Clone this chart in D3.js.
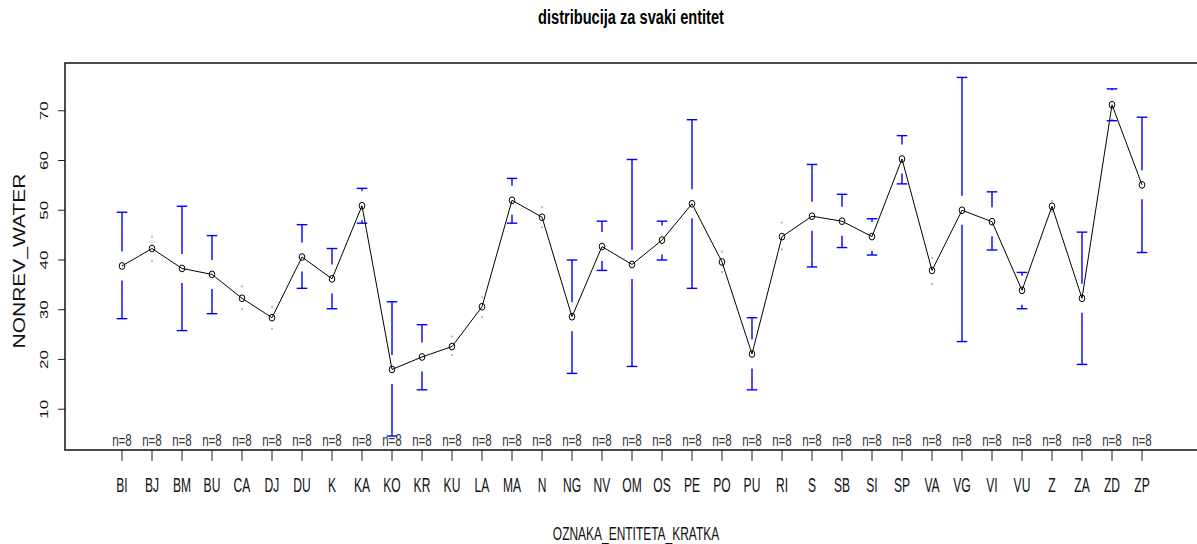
<!DOCTYPE html>
<html>
<head>
<meta charset="utf-8">
<script src="https://cdn.jsdelivr.net/npm/d3@7.9.0/dist/d3.min.js"></script>
<style>
  body { margin: 0; background: #fff; }
  svg { display: block; font-family: "Liberation Sans", Arial, sans-serif; }
</style>
</head>
<body>
<svg id="chart" width="1197" height="544"></svg>
<script>
// group codes (OZNAKA_ENTITETA_KRATKA)
const categories = ['BI', 'BJ', 'BM', 'BU', 'CA', 'DJ', 'DU', 'K', 'KA', 'KO', 'KR', 'KU', 'LA', 'MA', 'N', 'NG', 'NV', 'OM', 'OS', 'PE', 'PO', 'PU', 'RI', 'S', 'SB', 'SI', 'SP', 'VA', 'VG', 'VI', 'VU', 'Z', 'ZA', 'ZD', 'ZP'];
// mean NONREV_WATER per group
const means = [38.8, 42.3, 38.3, 37.1, 32.3, 28.4, 40.6, 36.2, 50.9, 18.0, 20.5, 22.6, 30.6, 52.0, 48.6, 28.6, 42.7, 39.1, 44.0, 51.3, 39.6, 21.1, 44.7, 48.8, 47.8, 44.7, 60.3, 37.9, 50.0, 47.7, 33.9, 50.8, 32.3, 71.2, 55.1];
// 95% CI limits
const upper = [49.6, 44.7, 50.8, 44.9, 34.7, 30.6, 47.1, 42.3, 54.4, 31.6, 27.0, 24.6, 32.5, 56.4, 50.6, 40.0, 47.8, 60.2, 47.8, 68.2, 41.7, 28.4, 47.5, 59.2, 53.2, 48.3, 65.0, 40.4, 76.7, 53.7, 37.5, 51.8, 45.6, 74.4, 68.7];
const lower = [28.2, 39.8, 25.8, 29.2, 30.1, 26.2, 34.3, 30.2, 47.4, 4.6, 13.9, 20.9, 28.5, 47.4, 46.6, 17.2, 37.9, 18.6, 40.0, 34.3, 37.6, 13.9, 42.1, 38.6, 42.5, 41.0, 55.3, 35.2, 23.6, 42.0, 30.2, 49.8, 19.0, 68.0, 41.5];
const counts = [8, 8, 8, 8, 8, 8, 8, 8, 8, 8, 8, 8, 8, 8, 8, 8, 8, 8, 8, 8, 8, 8, 8, 8, 8, 8, 8, 8, 8, 8, 8, 8, 8, 8, 8];
const yTicks = [10, 20, 30, 40, 50, 60, 70];

const data = categories.map((c, i) => ({
  label: c, i: i, mean: means[i], hi: upper[i], lo: lower[i], n: counts[i]
}));

const box = { left: 65, right: 1199, top: 63, bottom: 450 };
const svg = d3.select('#chart');

let x = d3.scaleLinear().domain([-1.9, categories.length + 0.9]).range([box.left, box.right]);
let y = d3.scaleLinear().domain([1.8, 79.6]).range([box.bottom, box.top]);

// horizontally squeezed text, like the original picture
function hText(g, tx, ty, str, size, sx, opts = {}) {
  return g.append('text')
    .attr('transform', `translate(${tx},${ty}) scale(${sx},1)`)
    .attr('text-anchor', opts.anchor || 'middle')
    .attr('font-size', size)
    .attr('font-weight', opts.weight || 'normal')
    .attr('fill', opts.fill || '#000')
    .text(str);
}
function vText(g, tx, ty, str, size, sx, opts = {}) {
  return g.append('text')
    .attr('transform', `translate(${tx},${ty}) scale(${sx},1) rotate(-90)`)
    .attr('text-anchor', 'middle')
    .attr('font-size', size)
    .attr('fill', opts.fill || '#000')
    .text(str);
}

// title + axis titles
hText(svg, 631, 24, 'distribucija za svaki entitet', 19.5, 0.75, { weight: 'bold' });
hText(svg, 636, 540, 'OZNAKA_ENTITETA_KRATKA', 19, 0.63, { fill: '#111' });
vText(svg, 25, 261, 'NONREV_WATER', 21, 0.78, { fill: '#111' });

// y axis ticks
let yAxis = svg.append('g');
yTicks.forEach(t => {
  yAxis.append('line')
    .attr('x1', box.left - 7).attr('x2', box.left)
    .attr('y1', y(t)).attr('y2', y(t))
    .attr('stroke', '#222').attr('stroke-width', 1);
  vText(yAxis, 47.5, y(t), t, 17, 0.66, { fill: '#111' });
});

// x axis ticks and labels
let xAxis = svg.append('g');
data.forEach(d => {
  xAxis.append('line')
    .attr('x1', x(d.i)).attr('x2', x(d.i))
    .attr('y1', box.bottom).attr('y2', box.bottom + 11)
    .attr('stroke', '#222').attr('stroke-width', 1);
  hText(xAxis, x(d.i), 491.5, d.label, 19.5, 0.62, { fill: '#111' });
  hText(xAxis, x(d.i), 446, 'n=' + d.n, 16.5, 0.7, { fill: '#333' });
});

// confidence bars, leaving a gap round the point
const gap = 14.5, cap = 5.3;
let bars = svg.append('g').attr('stroke', '#0000ff').attr('stroke-width', 1.4);
data.forEach(d => {
  let cx = x(d.i), cy = y(d.mean);
  [d.hi, d.lo].forEach((lim, k) => {
    let ly = y(lim);
    let dir = k === 0 ? -1 : 1;
    if (Math.abs(ly - cy) > gap) {
      bars.append('line')
        .attr('x1', cx).attr('x2', cx)
        .attr('y1', cy + dir * gap).attr('y2', ly);
      bars.append('line')
        .attr('x1', cx - cap).attr('x2', cx + cap)
        .attr('y1', ly).attr('y2', ly);
    } else {
      // arrow too short to draw: only a speck is left
      bars.append('rect')
        .attr('x', cx - 0.5).attr('y', ly - 1)
        .attr('width', 1).attr('height', 2)
        .attr('stroke', 'none').attr('fill', '#0000ff').attr('opacity', 0.6);
    }
  });
});

// connecting line and points
let line = d3.line().x(d => x(d.i)).y(d => y(d.mean));
svg.append('path')
  .datum(data)
  .attr('d', line)
  .attr('fill', 'none')
  .attr('stroke', '#000')
  .attr('stroke-width', 1);

svg.append('g').selectAll('ellipse')
  .data(data)
  .join('ellipse')
  .attr('cx', d => x(d.i))
  .attr('cy', d => y(d.mean))
  .attr('rx', 2.8).attr('ry', 3.4)
  .attr('fill', 'none')
  .attr('stroke', '#000')
  .attr('stroke-width', 1);

// plot box
svg.append('rect')
  .attr('x', box.left).attr('y', box.top)
  .attr('width', box.right - box.left).attr('height', box.bottom - box.top)
  .attr('fill', 'none')
  .attr('stroke', '#111')
  .attr('stroke-width', 1.5);
</script>
</body>
</html>
